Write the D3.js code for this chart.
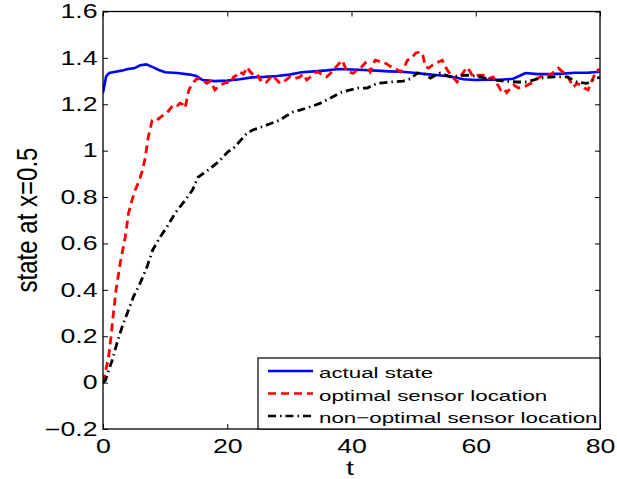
<!DOCTYPE html>
<html>
<head>
<meta charset="utf-8">
<script src="https://cdnjs.cloudflare.com/ajax/libs/d3/7.8.5/d3.min.js"></script>
<style>
  body { margin: 0; background: #fff; }
  text { font-family: "Liberation Sans", Arial, sans-serif; fill: #000; }
</style>
</head>
<body>
<div id="chart"></div>
<script>
// actual state
var actualT = [0,0.5,1,2,3,4,5,6,7,8,9,10,12,14,15,16,18,20,22,24,26,28,30,32,34,36,38,40,42,44,46,48,50,52,54,56,58,60,62,64,66,67,68,70,72,74,76,78,80];
var actualV = [1.25,1.32,1.335,1.34,1.345,1.352,1.355,1.368,1.372,1.36,1.348,1.338,1.335,1.328,1.322,1.305,1.30,1.302,1.308,1.316,1.318,1.322,1.328,1.338,1.342,1.346,1.352,1.35,1.348,1.345,1.342,1.34,1.336,1.33,1.325,1.32,1.308,1.305,1.306,1.306,1.31,1.322,1.335,1.33,1.33,1.332,1.336,1.336,1.34];

// optimal sensor location
var optT = [0,0.5,0.9,1.3,1.6,2.1,2.8,3.6,4.1,4.7,5.2,5.8,6.3,6.8,7.3,7.9,8.4,8.9,9.5,10,10.5,11.1,11.6,12,12.4,12.8,13.2,13.5,13.8,14.2,14.6,15.1,15.6,16.2,16.7,17.3,18,18.5,18.9,19.5,20,20.5,21,21.5,22,22.6,23.2,23.7,24.2,24.8,25.3,25.8,26.3,26.8,27.2,27.8,28.5,29.2,30.1,30.8,31.7,32.2,32.8,33.5,34.4,35.2,36,36.5,37.1,37.8,38.5,39.3,40.3,41,41.6,42.2,43,43.8,44.5,45.1,45.9,46.7,47.3,47.9,48.5,49,49.7,50.3,51.1,51.5,51.9,52.4,53.1,53.8,54.6,55,55.4,56.2,57,57.8,58.6,59.1,59.6,60.4,61.2,62,62.8,63.4,64,64.5,65,65.6,66.1,66.9,67.7,68.5,69.3,69.8,70.4,71.2,72,72.6,73.3,74,74.7,75.2,75.7,76.3,76.9,77.5,78.1,78.5,78.9,79.3,79.7,80];
var optV = [0,0.06,0.11,0.2,0.28,0.40,0.52,0.63,0.73,0.79,0.83,0.87,0.91,0.97,1.06,1.13,1.14,1.136,1.15,1.155,1.17,1.19,1.2,1.195,1.205,1.2,1.184,1.22,1.26,1.28,1.296,1.31,1.31,1.3,1.29,1.30,1.262,1.275,1.283,1.29,1.296,1.29,1.318,1.325,1.34,1.33,1.36,1.34,1.326,1.33,1.305,1.31,1.296,1.31,1.326,1.31,1.29,1.30,1.318,1.31,1.318,1.33,1.305,1.32,1.34,1.33,1.318,1.33,1.348,1.37,1.39,1.34,1.334,1.35,1.36,1.378,1.34,1.39,1.385,1.382,1.37,1.356,1.35,1.34,1.36,1.39,1.40,1.42,1.427,1.41,1.362,1.356,1.37,1.38,1.39,1.37,1.348,1.32,1.296,1.33,1.36,1.34,1.318,1.325,1.326,1.31,1.318,1.29,1.262,1.27,1.25,1.27,1.283,1.27,1.274,1.285,1.296,1.31,1.318,1.33,1.326,1.34,1.356,1.34,1.326,1.3,1.274,1.29,1.283,1.27,1.262,1.29,1.313,1.34,1.348,1.34];

// non-optimal sensor location
var nonT = [0,0.4,1,1.5,2.4,3.2,4.1,4.9,6,7.1,8,9.2,10.3,11.6,12.9,14.4,15.3,16.9,18.5,20.1,21,22,23.2,24.2,25.3,26.8,28.5,29.5,30.6,31.7,32.8,34,35,36.5,38.2,39.5,41,42.5,44.1,46.2,48.3,49.5,50.6,51.7,52.7,53.5,54.3,55.9,57.2,58.6,60.7,62.8,64.5,66.6,68.2,70.4,72.5,74.7,76.3,77.9,79.4,80];
var nonV = [0,0.01,0.06,0.098,0.184,0.25,0.313,0.37,0.43,0.50,0.572,0.628,0.671,0.73,0.775,0.83,0.886,0.916,0.95,0.995,1.01,1.04,1.076,1.09,1.10,1.115,1.132,1.15,1.167,1.175,1.184,1.195,1.205,1.225,1.25,1.26,1.27,1.27,1.29,1.296,1.30,1.31,1.335,1.33,1.313,1.325,1.335,1.318,1.322,1.326,1.318,1.305,1.30,1.296,1.296,1.313,1.318,1.318,1.296,1.29,1.313,1.315];

var xTicks = [0,20,40,60,80];
var yTicks = [-0.2,0,0.2,0.4,0.6,0.8,1,1.2,1.4,1.6];
var seriesNames = ["actual state","optimal sensor location","non\u2212optimal sensor location"];
var seriesColors = ["#0000ff","#ff0000","#000000"];
var seriesDash = [null,"8,5","8,4,1.5,4"];

var w = 617, h = 479;
var pL = 103, pR = 600, pT = 11.5, pB = 429;
var sx = 1.37; // the picture is stretched sideways, so are its letters

var svg = d3.select("#chart").append("svg").attr("width", w).attr("height", h);

var x = d3.scaleLinear().domain([0,80]).range([pL,pR]);
var y = d3.scaleLinear().domain([-0.2,1.6]).range([pB,pT]);

svg.append("defs").append("clipPath").attr("id","clip")
  .append("rect").attr("x",pL).attr("y",pT).attr("width",pR-pL).attr("height",pB-pT);

var fmt = function(d){ return String(+d.toFixed(1)).replace("-", "\u2212"); };

// axes, ticks pointing inward like matlab
var xAxisB = d3.axisBottom(x).tickValues(xTicks).tickSize(-5).tickPadding(10).tickFormat(fmt);
var xAxisT = d3.axisTop(x).tickValues(xTicks).tickSize(-5).tickFormat("");
var yAxisL = d3.axisLeft(y).tickValues(yTicks).tickSize(-5).tickPadding(4).tickFormat(fmt);
var yAxisR = d3.axisRight(y).tickValues(yTicks).tickSize(-5).tickFormat("");

var lines = [[actualT,actualV],[optT,optV],[nonT,nonV]];
var line = d3.line().x(function(d){ return x(d[0]); }).y(function(d){ return y(d[1]); });

var plot = svg.append("g").attr("clip-path","url(#clip)");
lines.forEach(function(s, i){
  var pts = s[0].map(function(t, j){ return [t, s[1][j]]; });
  plot.append("path").datum(pts).attr("d", line)
    .attr("fill","none").attr("stroke", seriesColors[i])
    .attr("stroke-width", i == 0 ? 2.6 : 2.8)
    .attr("stroke-dasharray", seriesDash[i]);
});

function styleAxis(g){
  g.select(".domain").remove();
  g.selectAll(".tick line").attr("stroke","#000").attr("stroke-width",1);
  g.selectAll(".tick text").style("font-size","19.5px").attr("fill","#000")
    .attr("transform","scale(" + sx + ",1)");
}
svg.append("g").attr("transform","translate(0,"+pB+")").call(xAxisB).call(styleAxis);
svg.append("g").attr("transform","translate(0,"+pT+")").call(xAxisT).call(styleAxis);
svg.append("g").attr("transform","translate("+pL+",0)").call(yAxisL).call(styleAxis);
svg.append("g").attr("transform","translate("+pR+",0)").call(yAxisR).call(styleAxis);

svg.append("rect").attr("x",pL).attr("y",pT).attr("width",pR-pL).attr("height",pB-pT)
  .attr("fill","none").attr("stroke","#000").attr("stroke-width",1.3);

// axis labels
svg.append("text").attr("transform","translate(350,475) scale(" + sx + ",1)").attr("text-anchor","middle")
  .style("font-size","21px").text("t");
svg.append("text").attr("transform","translate(37,220) scale(" + sx + ",1) rotate(-90)").attr("text-anchor","middle")
  .style("font-size","22px").attr("textLength",145).attr("lengthAdjust","spacingAndGlyphs")
  .text("state at x=0.5");

// legend
var lg = svg.append("g");
lg.append("rect").attr("x",258).attr("y",358).attr("width",342).attr("height",71)
  .attr("fill","#fff").attr("stroke","#000").attr("stroke-width",1.2);
seriesNames.forEach(function(n, i){
  var yy = 371 + i*22.5;
  lg.append("line").attr("x1",268).attr("x2",313).attr("y1",yy).attr("y2",yy)
    .attr("stroke",seriesColors[i]).attr("stroke-width", 2.5)
    .attr("stroke-dasharray", seriesDash[i]);
  lg.append("text").attr("transform","translate(319," + (yy + 7.3) + ") scale(1.46,1)")
    .style("font-size","15.3px").text(n);
});
</script>
</body>
</html>
